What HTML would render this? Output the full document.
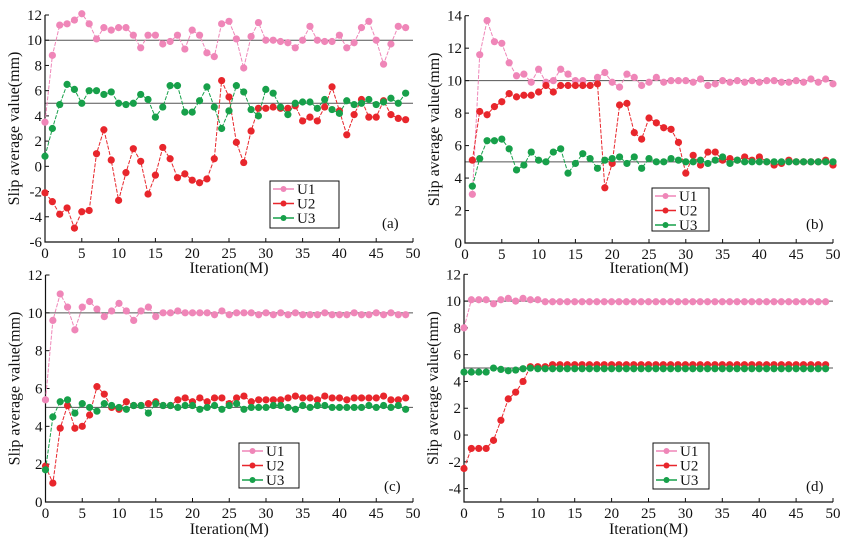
<!DOCTYPE html>
<html><head><meta charset="utf-8">
<style>
html,body{margin:0;padding:0;background:#fff;}
svg{display:block;font-family:"Liberation Serif",serif;}
</style></head>
<body>
<svg id="chart" width="853" height="540" viewBox="0 0 853 540"></svg>
<script>
const iterA = Array.from({length:50},(_,i)=>i);
const iterB = Array.from({length:50},(_,i)=>i+1);
const aU1=[3.5,8.8,11.2,11.3,11.6,12.1,11.3,10.1,11.0,10.8,11.0,11.0,10.4,9.4,10.4,10.4,9.7,9.9,10.4,9.3,10.8,10.4,9.0,8.7,11.3,11.5,10.1,7.8,10.3,11.4,10.0,10.0,9.9,9.8,9.4,10.0,11.1,10.0,9.9,9.9,10.4,9.4,9.8,11.0,11.5,10.0,8.1,9.7,11.1,11.0];
const aU2=[-2.1,-2.8,-3.8,-3.3,-4.9,-3.6,-3.5,1.0,2.9,0.5,-2.7,-0.5,1.4,0.4,-2.2,-0.7,1.5,0.6,-0.9,-0.6,-1.1,-1.3,-1.0,0.6,6.8,5.5,1.9,0.3,2.8,4.6,4.6,4.7,4.6,4.6,4.8,3.6,3.9,3.6,4.7,6.3,4.4,2.5,4.1,5.3,3.9,3.9,5.2,4.1,3.8,3.7];
const aU3=[0.8,3.0,4.9,6.5,6.1,5.0,6.0,6.0,5.7,5.9,5.0,4.9,5.0,5.7,5.3,3.9,4.7,6.4,6.4,4.3,4.3,5.2,6.3,4.7,3.0,4.4,6.4,5.9,4.5,4.0,6.1,5.8,4.7,4.1,5.0,5.1,5.1,4.6,5.3,4.5,4.2,5.2,4.9,5.0,5.3,4.9,5.1,5.4,5.0,5.8];
const bU1=[3.0,11.6,13.7,12.4,12.3,11.1,10.3,10.4,9.9,10.7,9.9,10.0,10.7,10.4,10.0,10.0,9.7,10.2,10.5,9.9,9.6,10.4,10.2,9.7,9.9,10.2,9.9,10.0,10.0,10.0,9.9,10.1,9.7,9.8,10.0,9.9,10.0,9.9,10.0,9.9,10.0,10.0,9.9,9.9,10.0,9.9,10.1,9.9,10.1,9.8];
const bU2=[5.1,8.1,7.9,8.4,8.7,9.2,9.0,9.1,9.1,9.3,9.7,9.3,9.7,9.7,9.7,9.7,9.7,9.8,3.4,4.9,8.5,8.6,6.8,6.4,7.7,7.4,7.1,7.0,6.2,4.3,5.4,4.8,5.6,5.6,5.1,5.2,5.1,5.3,5.1,5.3,5.0,4.8,4.9,5.1,5.0,5.0,5.0,5.0,5.1,4.8];
const bU3=[3.5,5.2,6.3,6.3,6.4,5.8,4.5,4.8,5.6,5.1,5.0,5.6,5.8,4.3,4.9,5.5,5.2,4.6,5.1,5.2,5.3,4.9,5.3,4.6,5.2,5.0,5.0,5.2,5.1,5.0,5.0,5.1,4.9,5.1,5.3,4.9,5.1,5.0,5.0,5.0,5.0,5.0,5.0,5.0,5.0,5.0,5.0,5.0,5.0,5.0];
const cU1=[5.4,9.6,11.0,10.3,9.1,10.3,10.6,10.2,9.8,10.1,10.5,10.1,9.6,10.1,10.3,9.8,10.0,10.0,10.1,10.0,10.0,10.0,10.0,9.9,10.1,9.9,10.0,10.0,10.0,9.9,10.0,9.9,10.0,9.9,10.0,9.9,9.9,9.9,10.0,9.9,9.9,9.9,10.0,9.9,9.9,10.0,9.9,10.0,9.9,9.9];
const cU2=[1.9,1.0,3.9,5.1,3.9,4.0,4.6,6.1,5.7,5.0,4.9,5.3,5.1,5.1,5.2,5.3,5.1,5.1,5.4,5.5,5.3,5.5,5.3,5.5,5.5,5.2,5.5,5.6,5.3,5.4,5.4,5.4,5.4,5.5,5.6,5.5,5.5,5.4,5.6,5.5,5.5,5.4,5.5,5.5,5.5,5.5,5.6,5.4,5.4,5.5];
const cU3=[1.7,4.5,5.3,5.4,4.7,5.2,5.0,4.8,5.2,5.1,5.0,4.9,5.1,5.1,4.7,5.2,5.1,5.1,5.0,5.1,5.1,4.9,5.0,5.1,4.9,5.1,5.2,4.9,5.0,5.0,5.0,5.1,5.1,5.0,4.9,5.1,5.0,5.1,5.1,5.0,5.0,5.0,5.0,5.0,5.1,5.0,5.1,5.0,5.1,4.9];
const dU1=[8.0,10.1,10.1,10.1,9.8,10.1,10.2,10.0,10.2,10.1,10.1,9.95,9.95,9.95,9.95,9.95,9.95,9.95,9.95,9.95,9.95,9.95,9.95,9.95,9.95,9.95,9.95,9.95,9.95,9.95,9.95,9.95,9.95,9.95,9.95,9.95,9.95,9.95,9.95,9.95,9.95,9.95,9.95,9.95,9.95,9.95,9.95,9.95,9.95,9.95];
const dU2=[-2.5,-1.0,-1.0,-1.0,-0.4,1.1,2.7,3.2,4.0,5.1,5.1,5.1,5.25,5.25,5.25,5.25,5.25,5.25,5.25,5.25,5.25,5.25,5.25,5.25,5.25,5.25,5.25,5.25,5.25,5.25,5.25,5.25,5.25,5.25,5.25,5.25,5.25,5.25,5.25,5.25,5.25,5.25,5.25,5.25,5.25,5.25,5.25,5.25,5.25,5.25];
const dU3=[4.7,4.7,4.7,4.7,5.0,4.9,4.8,4.85,4.95,5.0,4.95,4.95,4.95,4.95,4.95,4.95,4.95,4.95,4.95,4.95,4.95,4.95,4.95,4.95,4.95,4.95,4.95,4.95,4.95,4.95,4.95,4.95,4.95,4.95,4.95,4.95,4.95,4.95,4.95,4.95,4.95,4.95,4.95,4.95,4.95,4.95,4.95,4.95,4.95,4.95];
const xTicks=[0,5,10,15,20,25,30,35,40,45,50];
const aYTicks=[-6,-4,-2,0,2,4,6,8,10,12];
const bYTicks=[0,2,4,6,8,10,12,14];
const cYTicks=[0,2,4,6,8,10,12];
const dYTicks=[-4,-2,0,2,4,6,8,10,12];
const seriesNames=["U1","U2","U3"];
const colors={U1:"#ef86b8",U2:"#e8262c",U3:"#17a04a"};

const NS="http://www.w3.org/2000/svg";
const svg=document.getElementById('chart');
function mk(tag,attrs,parent){const e=document.createElementNS(NS,tag);for(const k in attrs)e.setAttribute(k,attrs[k]);(parent||svg).appendChild(e);return e;}

const panels=[
 {id:"a",x0:45,x1:413,yTop:15,yBot:242,ymin:-6,ymax:12,yt:aYTicks,xs:iterA,s:[aU1,aU2,aU3],leg:[270,181,69,47],lab:[382,228],xlabY:273},
 {id:"b",x0:465,x1:833,yTop:15.7,yBot:243,ymin:0,ymax:14,yt:bYTicks,xs:iterB,s:[bU1,bU2,bU3],leg:[652,188,57,43],lab:[806,229],xlabY:273},
 {id:"c",x0:45.5,x1:413,yTop:275,yBot:502,ymin:0,ymax:12,yt:cYTicks,xs:iterA,s:[cU1,cU2,cU3],leg:[239,443,60,45],lab:[384,491],xlabY:534},
 {id:"d",x0:464,x1:833,yTop:274.3,yBot:502,ymin:-5,ymax:12,yt:dYTicks,xs:iterA,s:[dU1,dU2,dU3],leg:[653,443,56,46],lab:[806,491],xlabY:534}
];

panels.forEach(p=>{
 const g=mk('g',{});
 
 
 const X=v=>p.x0+(v-0)/50*(p.x1-p.x0);
 const Y=v=>p.yBot-(v-p.ymin)/(p.ymax-p.ymin)*(p.yBot-p.yTop);
 [10,5].forEach(r=>{const l=mk('line',{x1:p.x0,x2:p.x1,y1:Y(r),y2:Y(r),stroke:"#555",'stroke-width':1},g);
  
  });
 const ax=mk('path',{d:`M${p.x0},${p.yTop} V${p.yBot} H${p.x1}`,fill:"none",stroke:"#111",'stroke-width':1.2},g);
 
 
 p.yt.forEach(t=>{mk('line',{x1:p.x0,x2:p.x0+4,y1:Y(t),y2:Y(t),stroke:"#111"},g);
  const tx=mk('text',{x:p.x0-3,y:Y(t)+5,'text-anchor':'end','font-size':15,fill:'#111'},g);tx.textContent=t;
  
  });
 xTicks.forEach(t=>{mk('line',{x1:X(t),x2:X(t),y1:p.yBot,y2:p.yBot-4,stroke:"#111"},g);
  const tx=mk('text',{x:X(t),y:p.yBot+16,'text-anchor':'middle','font-size':15,fill:'#111'},g);tx.textContent=t;
  
  });
 const xl=mk('text',{x:(p.x0+p.x1)/2,y:p.xlabY,'text-anchor':'middle','font-size':16,fill:'#111'},g);xl.textContent="Iteration(M)";
 
 
 const cy=(p.yTop+p.yBot)/2, cx=p.x0-26;
 const yl=mk('text',{x:cx,y:cy,transform:`rotate(-90 ${cx} ${cy})`,'text-anchor':'middle','font-size':16,fill:'#111'},g);yl.textContent="Slip average value(mm)";
 
 
 p.s.forEach((vals,si)=>{
  const name=seriesNames[si], col=colors[name];
  const sg=mk('g',{},g);
  
  
  const d=vals.map((v,i)=>(i?'L':'M')+X(p.xs[i]).toFixed(1)+','+Y(v).toFixed(1)).join(' ');
  mk('path',{d:d,fill:'none',stroke:col,'stroke-width':1,'stroke-dasharray':'4 1.5'},sg);
  vals.forEach((v,i)=>{const c=mk('circle',{cx:X(p.xs[i]),cy:Y(v),r:3.6,fill:col},sg);
   
   });
 });
 const [lx,ly,lw,lh]=p.leg;
 const lg=mk('g',{},g);
 
 
 mk('rect',{x:lx,y:ly,width:lw,height:lh,fill:'#fff',stroke:'#111','stroke-width':1},lg);
 seriesNames.forEach((n,i)=>{const yy=ly+8+i*14.5;
  mk('line',{x1:lx+3,x2:lx+24,y1:yy,y2:yy,stroke:colors[n],'stroke-width':1.5},lg);
  mk('circle',{cx:lx+13.5,cy:yy,r:3,fill:colors[n]},lg);
  const t=mk('text',{x:lx+27,y:yy+5,'font-size':15,fill:'#111'},lg);t.textContent=n;
  
  });
 const pl=mk('text',{x:p.lab[0],y:p.lab[1],'font-size':15,fill:'#111'},g);pl.textContent="("+p.id+")";
 
 
});
</script>
</body></html>
